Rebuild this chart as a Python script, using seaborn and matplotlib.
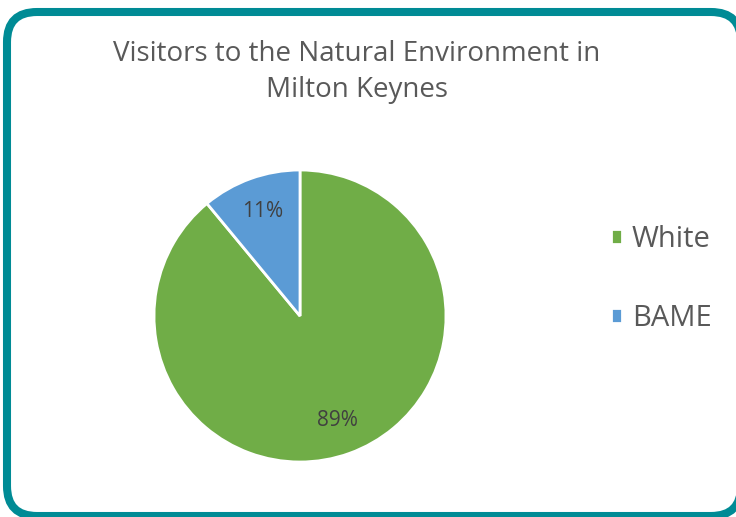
import matplotlib.pyplot as plt
import seaborn as sns
from matplotlib.patches import FancyBboxPatch

sns.set_theme(style="white")
plt.rcParams['font.family'] = ['Open Sans', 'DejaVu Sans']

# data
groups = ['White', 'BAME']
shares = [89, 11]
colors = ['#70AD47', '#5B9BD5']
title = 'Visitors to the Natural Environment in\nMilton Keynes'

W, H = 736, 517
fig = plt.figure(figsize=(W / 100, H / 100), dpi=100)
fig.patch.set_facecolor('white')

# background axes in pixel units for the rounded teal frame
# (filled so agg doesn't chop the curved corners when it clips)
bg = fig.add_axes([0, 0, 1, 1], zorder=-1)
bg.set_xlim(0, W)
bg.set_ylim(H, 0)
bg.axis('off')
frame = FancyBboxPatch((7, 12), 734, 504,
                       boxstyle="round,pad=0,rounding_size=30",
                       facecolor='white', edgecolor='#008B95', linewidth=5.8)
bg.add_patch(frame)

# pie axes: centre (300, 316) px, radius 146 px
cx, cy, r = 300, 316, 146
ax = fig.add_axes([(cx - r) / W, (H - cy - r) / H, 2 * r / W, 2 * r / H])
wedges, _, autotexts = ax.pie(
    shares, colors=colors, startangle=90, counterclock=False,
    autopct='%1.0f%%', pctdistance=0.76,
    wedgeprops=dict(edgecolor='white', linewidth=2),
    textprops=dict(color='#404040', fontsize=15))
ax.set_xlim(-1, 1)
ax.set_ylim(-1, 1)
ax.axis('off')

fig.text(357 / W, 1 - 72 / H, title, ha='center', va='center',
         fontsize=20, color='#595959', linespacing=1.4)

fig.legend(wedges, groups, loc='center left',
           bbox_to_anchor=(585 / W, 1 - 279 / H), frameon=False,
           fontsize=21, handlelength=0.38, handleheight=0.38,
           handletextpad=0.32, labelspacing=1.72, labelcolor='#595959')

fig.savefig('out.png', dpi=100, facecolor='white')
